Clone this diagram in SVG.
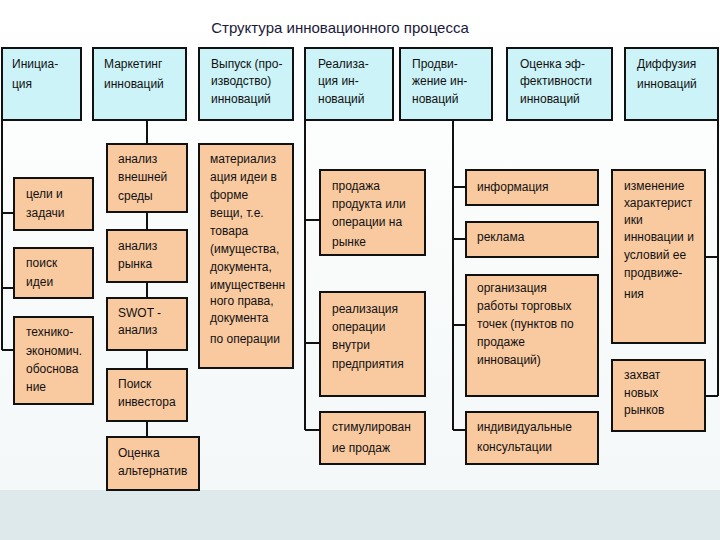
<svg xmlns="http://www.w3.org/2000/svg" width="720" height="540" viewBox="0 0 720 540">
<defs>
<linearGradient id="bg" x1="0" y1="0" x2="0" y2="1"><stop offset="0" stop-color="#ffffff"/><stop offset="1" stop-color="#f4f8f8"/></linearGradient>
<style>
.h{fill:#ccf3f7;stroke:#111;stroke-width:2}
.o{fill:#f9c9a0;stroke:#111;stroke-width:2}
.c{stroke:#111;stroke-width:2;fill:none}
text{font-family:"Liberation Sans",Arial,sans-serif;font-size:12px;fill:#111}
.t{font-size:15px;fill:#1a1a3a}
</style>
</defs>
<rect width="720" height="490" fill="url(#bg)"/>
<rect y="490" width="720" height="50" fill="#dde9ea"/>
<text class="t" x="340" y="33" text-anchor="middle">Структура инновационного процесса</text>
<g id="connectors">
<path class="c" d="M2 120V350M2 213H14M2 288H14M2 350H14"/>
<path class="c" d="M147 120V437"/>
<path class="c" d="M305 120V430M305 220H320M305 343H320M305 430H320"/>
<path class="c" d="M453 120V430M453 187H466M453 239H466M453 325H466M453 430H466"/>
<path class="c" d="M718 120V396M705 257H718M705 396H718"/>
</g>
<g id="h1"><rect class="h" x="2" y="48" width="79" height="72"/><text x="12" y="68">Инициа-</text><text x="12" y="88">ция</text></g>
<g id="h2"><rect class="h" x="93" y="48" width="93" height="72"/><text x="104" y="68">Маркетинг</text><text x="104" y="88">инноваций</text></g>
<g id="h3"><rect class="h" x="199" y="48" width="94" height="72"/><text x="211" y="68">Выпуск (про-</text><text x="211" y="85">изводство)</text><text x="211" y="103">инноваций</text></g>
<g id="h4"><rect class="h" x="305" y="48" width="88" height="72"/><text x="318" y="68">Реализа-</text><text x="318" y="85">ция ин-</text><text x="318" y="103">новаций</text></g>
<g id="h5"><rect class="h" x="400" y="48" width="92" height="72"/><text x="412" y="68">Продви-</text><text x="412" y="85">жение ин-</text><text x="412" y="103">новаций</text></g>
<g id="h6"><rect class="h" x="507" y="48" width="105" height="72"/><text x="520" y="68">Оценка эф-</text><text x="520" y="85">фективности</text><text x="520" y="103">инноваций</text></g>
<g id="h7"><rect class="h" x="625" y="48" width="93" height="72"/><text x="637" y="68">Диффузия</text><text x="637" y="88">инноваций</text></g>
<g id="a1"><rect class="o" x="14" y="178" width="79" height="52"/><text x="26" y="198">цели и</text><text x="26" y="217">задачи</text></g>
<g id="a2"><rect class="o" x="14" y="248" width="79" height="50"/><text x="26" y="267">поиск</text><text x="26" y="286">идеи</text></g>
<g id="a3"><rect class="o" x="14" y="317" width="79" height="87"/><text x="26" y="336">технико-</text><text x="26" y="355">экономич.</text><text x="26" y="373">обоснова</text><text x="26" y="391">ние</text></g>
<g id="b1"><rect class="o" x="107" y="144" width="80" height="68"/><text x="118" y="163">анализ</text><text x="118" y="181">внешней</text><text x="118" y="200">среды</text></g>
<g id="b2"><rect class="o" x="107" y="230" width="80" height="52"/><text x="118" y="250">анализ</text><text x="118" y="268">рынка</text></g>
<g id="b3"><rect class="o" x="107" y="298" width="80" height="52"/><text x="118" y="317">SWOT -</text><text x="118" y="334">анализ</text></g>
<g id="b4"><rect class="o" x="107" y="369" width="80" height="52"/><text x="118" y="388">Поиск</text><text x="118" y="406">инвестора</text></g>
<g id="b5"><rect class="o" x="107" y="437" width="92" height="53"/><text x="118" y="457">Оценка</text><text x="118" y="475">альтернатив</text></g>
<g id="c1"><rect class="o" x="199" y="144" width="94" height="224"/><text x="210" y="163">материализ</text><text x="210" y="181">ация идеи в</text><text x="210" y="199">форме</text><text x="210" y="217">вещи, т.е.</text><text x="210" y="235">товара</text><text x="210" y="253">(имущества,</text><text x="210" y="271">документа,</text><text x="210" y="289">имущественн</text><text x="210" y="305">ного права,</text><text x="210" y="322">документа</text><text x="210" y="343">по операции</text></g>
<g id="d1"><rect class="o" x="320" y="170" width="105" height="85"/><text x="332" y="190">продажа</text><text x="332" y="208">продукта или</text><text x="332" y="226">операции на</text><text x="332" y="246">рынке</text></g>
<g id="d2"><rect class="o" x="320" y="292" width="105" height="104"/><text x="332" y="313">реализация</text><text x="332" y="331">операции</text><text x="332" y="349">внутри</text><text x="332" y="368">предприятия</text></g>
<g id="d3"><rect class="o" x="320" y="412" width="105" height="52"/><text x="332" y="431">стимулирован</text><text x="332" y="452">ие продаж</text></g>
<g id="e1"><rect class="o" x="466" y="170" width="132" height="35"/><text x="477" y="191">информация</text></g>
<g id="e2"><rect class="o" x="466" y="222" width="132" height="35"/><text x="477" y="241">реклама</text></g>
<g id="e3"><rect class="o" x="466" y="275" width="132" height="121"/><text x="477" y="292">организация</text><text x="477" y="310">работы торговых</text><text x="477" y="328">точек (пунктов по</text><text x="477" y="346">продаже</text><text x="477" y="364">инноваций)</text></g>
<g id="e4"><rect class="o" x="466" y="412" width="132" height="52"/><text x="477" y="431">индивидуальные</text><text x="477" y="451">консультации</text></g>
<g id="f1"><rect class="o" x="612" y="170" width="93" height="173"/><text x="624" y="190">изменение</text><text x="624" y="207">характерист</text><text x="624" y="224">ики</text><text x="624" y="241">инновации и</text><text x="624" y="259">условий ее</text><text x="624" y="277">продвиже-</text><text x="624" y="298">ния</text></g>
<g id="f2"><rect class="o" x="612" y="360" width="93" height="71"/><text x="624" y="379">захват</text><text x="624" y="397">новых</text><text x="624" y="414">рынков</text></g>
</svg>
